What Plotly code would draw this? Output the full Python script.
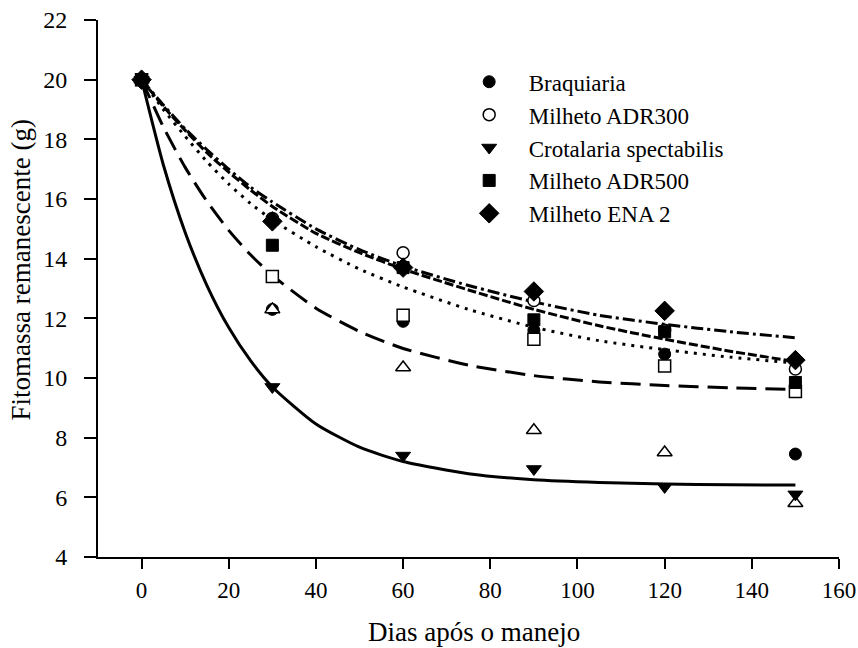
import plotly.graph_objects as go

days = [0, 30, 60, 90, 120, 150]

braquiaria = [20.0, 12.3, 11.9, 11.6, 10.8, 7.45]
adr300 = [20.0, 15.35, 14.2, 12.6, 11.6, 10.3]
crotalaria = [20.0, 9.7, 7.4, 6.95, 6.35, 6.1]
adr500 = [20.0, 14.45, 13.7, 11.95, 11.55, 9.85]
ena2 = [20.0, 15.25, 13.7, 12.9, 12.25, 10.6]
open_square = [20.0, 13.4, 12.1, 11.3, 10.4, 9.55]
open_triangle = [20.0, 12.3, 10.35, 8.25, 7.5, 5.8]

curve_x = [0, 5, 10, 15, 20, 25, 30, 40, 50, 60, 75, 90, 105, 120, 135, 150]
curve_solid = [20.0, 17.14, 14.88, 13.10, 11.69, 10.58, 9.70, 8.46, 7.68, 7.20, 6.79, 6.59, 6.50, 6.45, 6.42, 6.41]
curve_longdash = [20.0, 18.41, 17.06, 15.92, 14.95, 14.13, 13.44, 12.34, 11.56, 10.99, 10.43, 10.08, 9.87, 9.75, 9.67, 9.62]
curve_dot = [20.0, 19.0, 18.1, 17.25, 16.5, 15.85, 15.3, 14.4, 13.65, 13.05, 12.3, 11.7, 11.25, 10.95, 10.7, 10.5]
curve_dash = [20.0, 19.1, 18.3, 17.55, 16.9, 16.3, 15.75, 14.85, 14.2, 13.65, 12.95, 12.3, 11.75, 11.3, 10.9, 10.55]
curve_dashdot = [20.0, 19.15, 18.35, 17.65, 17.0, 16.4, 15.9, 15.0, 14.3, 13.75, 13.1, 12.55, 12.1, 11.8, 11.55, 11.35]

x_ticks = [0, 20, 40, 60, 80, 100, 120, 140, 160]
y_ticks = [4, 6, 8, 10, 12, 14, 16, 18, 20, 22]

FONT = "Liberation Serif, Times New Roman, serif"

fig = go.Figure()

curves = [
    (curve_solid, "solid"),
    (curve_longdash, "20px,9px"),
    (curve_dot, "3px,6px"),
    (curve_dash, "9px,3px"),
    (curve_dashdot, "12px,4px,3px,4px"),
]
for ys, dash in curves:
    fig.add_trace(go.Scatter(x=curve_x, y=ys, mode="lines", showlegend=False,
                             line=dict(color="black", width=3, dash=dash, shape="spline", smoothing=0.6),
                             hoverinfo="skip"))

legend_order = {"Braquiaria": 1, "Milheto ADR300": 2, "Crotalaria spectabilis": 3,
                "Milheto ADR500": 4, "Milheto ENA 2": 5}

fig.add_trace(go.Scatter(x=days, y=braquiaria, mode="markers", name="Braquiaria",
                         legendrank=legend_order["Braquiaria"],
                         marker=dict(symbol="circle", size=12, color="black",
                                     line=dict(color="black", width=1))))
fig.add_trace(go.Scatter(x=days, y=open_triangle, mode="markers", showlegend=False,
                         marker=dict(symbol="triangle-up", size=13, color="white",
                                     line=dict(color="black", width=1.5))))
fig.add_trace(go.Scatter(x=days, y=open_square, mode="markers", showlegend=False,
                         marker=dict(symbol="square", size=12, color="white",
                                     line=dict(color="black", width=1.5))))
fig.add_trace(go.Scatter(x=days, y=adr300, mode="markers", name="Milheto ADR300",
                         legendrank=legend_order["Milheto ADR300"],
                         marker=dict(symbol="circle", size=12, color="white",
                                     line=dict(color="black", width=1.5))))

for name, ys, sym, size in [
    ("Crotalaria spectabilis", crotalaria, "triangle-down", 13),
    ("Milheto ADR500", adr500, "square", 12),
    ("Milheto ENA 2", ena2, "diamond", 15),
]:
    fig.add_trace(go.Scatter(x=days, y=ys, mode="markers", name=name,
                             legendrank=legend_order[name],
                             marker=dict(symbol=sym, size=size, color="black",
                                         line=dict(color="black", width=1))))

fig.update_layout(
    width=858, height=648,
    margin=dict(l=98, r=19, t=20, b=91),
    paper_bgcolor="white", plot_bgcolor="white",
    font=dict(family=FONT, size=24, color="black"),
    legend=dict(x=0.4746, y=0.925, xanchor="left", yanchor="top",
                bgcolor="rgba(0,0,0,0)", font=dict(family=FONT, size=23),
                itemwidth=69, tracegroupgap=0),
    showlegend=True,
    annotations=[
        dict(text="Dias após o manejo", xref="paper", yref="paper", x=0.5, y=0,
             xshift=5, yshift=-75, xanchor="center", yanchor="middle", showarrow=False,
             font=dict(family=FONT, size=27)),
        dict(text="Fitomassa remanescente (g)", xref="paper", yref="paper", x=0, y=0.5,
             xshift=-78, yshift=18, xanchor="center", yanchor="middle", textangle=-90,
             showarrow=False, font=dict(family=FONT, size=27)),
    ],
)
fig.update_xaxes(range=[-10, 160], tickvals=x_ticks, automargin=False,
                 showline=True, linecolor="black", linewidth=2, ticks="outside",
                 ticklen=10, tickwidth=2, tickcolor="black", showgrid=False, zeroline=False,
                 ticklabelstandoff=1, ticklabeloverflow="allow",
                 tickfont=dict(family=FONT, size=23))
fig.update_yaxes(range=[4, 22], tickvals=y_ticks, automargin=False,
                 showline=True, linecolor="black", linewidth=2, ticks="outside",
                 ticklen=12, tickwidth=2, tickcolor="black", showgrid=False, zeroline=False,
                 ticklabelstandoff=12, ticklabeloverflow="allow",
                 tickfont=dict(family=FONT, size=24))

fig.write_html(
    "out.html",
    config={"displayModeBar": False},
    post_script="document.body.style.margin='0';document.body.style.overflow='hidden';",
)
